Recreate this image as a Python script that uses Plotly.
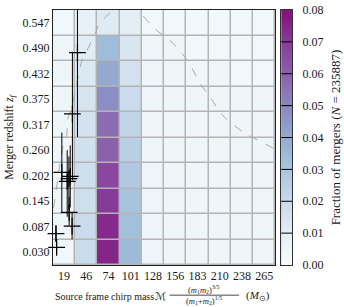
import numpy as np
import plotly.graph_objects as go

# ---------------- data ----------------
mass_centers = [19.0, 46.33, 73.67, 101.0, 128.33, 155.67, 183.0, 210.33, 237.67, 265.0]
mass_labels = ["19", "46", "74", "101", "128", "156", "183", "210", "238", "265"]
z_centers = [0.030, 0.0875, 0.145, 0.2025, 0.260, 0.3175, 0.375, 0.4325, 0.490, 0.5475]
z_labels = ["0.030", "0.087", "0.145", "0.202", "0.260", "0.317", "0.375", "0.432", "0.490", "0.547"]

# fraction of mergers per chirp-mass column, listed from lowest to highest redshift bin
frac_m19 = [0.003, 0.004, 0.004, 0.004, 0.004, 0.004, 0.004, 0.004, 0.004, 0.003]
frac_m46 = [0.019, 0.019, 0.018, 0.018, 0.017, 0.016, 0.015, 0.013, 0.011, 0.008]
frac_m74 = [0.075, 0.074, 0.070, 0.067, 0.060, 0.057, 0.048, 0.040, 0.034, 0.012]
frac_m101 = [0.035, 0.033, 0.031, 0.028, 0.025, 0.022, 0.019, 0.016, 0.014, 0.010]
frac_m128 = [0.005, 0.005, 0.005, 0.005, 0.004, 0.004, 0.004, 0.004, 0.004, 0.003]
frac_m156 = [0.004, 0.004, 0.004, 0.004, 0.004, 0.004, 0.004, 0.004, 0.004, 0.003]
frac_m183 = [0.004, 0.004, 0.004, 0.004, 0.004, 0.004, 0.004, 0.004, 0.003, 0.003]
frac_m210 = [0.004, 0.004, 0.004, 0.004, 0.004, 0.004, 0.004, 0.004, 0.003, 0.003]
frac_m238 = [0.004, 0.004, 0.004, 0.004, 0.004, 0.004, 0.004, 0.003, 0.003, 0.003]
frac_m265 = [0.004, 0.004, 0.004, 0.004, 0.004, 0.004, 0.004, 0.003, 0.003, 0.003]
columns = [frac_m19, frac_m46, frac_m74, frac_m101, frac_m128,
           frac_m156, frac_m183, frac_m210, frac_m238, frac_m265]

# observed events (source-frame chirp mass, redshift and its error bars)
ev_mass = [35.4, 29.2, 16.2, 26.5, 24.9, 22.8, 25.2, 28.8, 9.0, 9.8]
ev_z = [0.480, 0.342, 0.210, 0.201, 0.196, 0.190, 0.120, 0.089, 0.072, 0.041]
ev_z_up = [0.19, 0.14, 0.09, 0.07, 0.05, 0.07, 0.035, 0.03, 0.018, 0.012]
ev_z_dn = [0.19, 0.15, 0.09, 0.07, 0.07, 0.08, 0.03, 0.03, 0.018, 0.012]

# dashed reference curve
curve_mass = [6.0, 7.7, 10.1, 13.5, 17.4, 22.2, 23.4, 28.2, 33.0, 37.8, 41.4, 49.9, 58.3,
              61.9, 76.4, 92.0, 110.0, 122.1, 134.2, 146.2, 158.3, 167.9, 176.3, 184.7,
              194.4, 202.8, 210.0, 222.1, 236.5, 248.5, 264.2, 275.0, 278.7]
curve_z = [0.130, 0.148, 0.181, 0.225, 0.269, 0.293, 0.331, 0.353, 0.400, 0.440, 0.467,
           0.495, 0.528, 0.546, 0.572, 0.600, 0.576, 0.550, 0.528, 0.513, 0.491, 0.469,
           0.445, 0.414, 0.390, 0.368, 0.346, 0.324, 0.304, 0.291, 0.276, 0.265, 0.262]

cbar_vals = [0.00, 0.01, 0.02, 0.03, 0.04, 0.05, 0.06, 0.07, 0.08]
cbar_labels = ["0.00", "0.01", "0.02", "0.03", "0.04", "0.05", "0.06", "0.07", "0.08"]

# ---------------- layout geometry ----------------
W, H = 344, 307
ML, MT = 53, 3
PLOT_R, CB_L, CB_R, PLOT_B = 280, 286, 297, 265
MR, MB = W - CB_R, H - PLOT_B
PW, PH = CB_R - ML, PLOT_B - MT

def px_x(px):
    return (px - ML) / PW

def px_y(py):
    return (PLOT_B - py) / PH

zmat = [[columns[j][i] for j in range(len(mass_centers))] for i in range(len(z_centers))]

dm = mass_centers[1] - mass_centers[0]
dz = z_centers[1] - z_centers[0]
xr = [mass_centers[0] - dm / 2, mass_centers[-1] + dm / 2]
yr = [z_centers[0] - dz / 2, z_centers[-1] + dz / 2]

bupu = [
    [0 / 7, "rgb(247,252,253)"],
    [1 / 7, "rgb(224,236,244)"],
    [2 / 7, "rgb(191,211,230)"],
    [3 / 7, "rgb(158,188,218)"],
    [4 / 7, "rgb(140,150,198)"],
    [5 / 7, "rgb(140,107,177)"],
    [6 / 7, "rgb(136,65,157)"],
    [7 / 7, "rgb(129,15,124)"],
]
ZMIN, ZMAX = cbar_vals[0], cbar_vals[-1]

FONT = "Liberation Serif"
TXT = "#1a1a1a"

fig = go.Figure()

fig.add_trace(go.Heatmap(
    x=mass_centers, y=z_centers, z=zmat,
    zmin=ZMIN, zmax=ZMAX, colorscale=bupu, showscale=False,
    xgap=1.5, ygap=1.5, hoverinfo="skip",
))

fig.add_trace(go.Scatter(
    x=curve_mass, y=curve_z, mode="lines",
    line=dict(color="#a8a8a8", width=1, dash="dash"),
    hoverinfo="skip", showlegend=False,
))

fig.add_trace(go.Scatter(
    x=ev_mass, y=ev_z, mode="markers",
    marker=dict(size=1, color="rgba(0,0,0,0)"),
    error_y=dict(type="data", symmetric=False, array=ev_z_up, arrayminus=ev_z_dn,
                 color="black", thickness=1, width=0),
    hoverinfo="skip", showlegend=False,
))

fig.add_trace(go.Scatter(
    x=ev_mass, y=ev_z, mode="markers",
    marker=dict(symbol="cross-thin", size=12, line=dict(color="black", width=1.2)),
    cliponaxis=False, hoverinfo="skip", showlegend=False,
))

# colour bar drawn as its own small heatmap axis
grad = np.linspace(ZMIN, ZMAX, 321)
fig.add_trace(go.Heatmap(
    x=[0], y=grad, z=[[v] for v in grad],
    zmin=ZMIN, zmax=ZMAX, colorscale=bupu, showscale=False,
    xaxis="x2", yaxis="y2", hoverinfo="skip",
))
# colour-bar tick lines across the bar
for v in cbar_vals[1:-1]:
    fig.add_shape(type="line", xref="paper", yref="paper",
                  x0=px_x(CB_L), x1=1.0, y0=(v - ZMIN) / (ZMAX - ZMIN), y1=(v - ZMIN) / (ZMAX - ZMIN),
                  line=dict(color="black", width=1), layer="above")

# x axis title built from pieces (text + fraction)
ty = px_y(297)
XT = 10
fig.add_annotation(x=px_x(53), y=ty, xref="paper", yref="paper",
                   text="Source frame chirp mass", showarrow=False,
                   xanchor="left", yanchor="middle",
                   font=dict(family=FONT, size=XT, color=TXT))
fig.add_annotation(x=px_x(163), y=px_y(296.5), xref="paper", yref="paper",
                   text="ℳ", showarrow=False,
                   xanchor="center", yanchor="middle",
                   font=dict(family="DejaVu Sans", size=10.5, color=TXT))
fig.add_annotation(x=px_x(207), y=px_y(290.5), xref="paper", yref="paper",
                   text="(<i>m</i><sub>1</sub><i>m</i><sub>2</sub>)<sup>3/5</sup>",
                   showarrow=False, xanchor="center", yanchor="middle",
                   font=dict(family=FONT, size=8.5, color=TXT))
fig.add_annotation(x=px_x(207), y=px_y(301.5), xref="paper", yref="paper",
                   text="(<i>m</i><sub>1</sub>+<i>m</i><sub>2</sub>)<sup>1/5</sup>",
                   showarrow=False, xanchor="center", yanchor="middle",
                   font=dict(family=FONT, size=8.5, color=TXT))
fig.add_shape(type="line", xref="paper", yref="paper",
              x0=px_x(172), x1=px_x(243), y0=px_y(296), y1=px_y(296),
              line=dict(color=TXT, width=0.8))
fig.add_annotation(x=px_x(248), y=ty, xref="paper", yref="paper",
                   text="(<i>M</i><sub>⊙</sub>)", showarrow=False,
                   xanchor="left", yanchor="middle",
                   font=dict(family=FONT, size=XT + 1, color=TXT))

fig.update_layout(
    width=W, height=H,
    margin=dict(l=ML, r=MR, t=MT, b=MB, pad=0),
    paper_bgcolor="white", plot_bgcolor="#b4b4b4",
    showlegend=False,
    xaxis=dict(
        domain=[0, px_x(PLOT_R)], anchor="y",
        range=xr, tickvals=mass_centers, ticktext=mass_labels,
        showgrid=False, zeroline=False, ticks="",
        showline=True, linecolor="#222", linewidth=1, mirror=True,
        tickfont=dict(family=FONT, size=12, color=TXT),
    ),
    yaxis=dict(
        domain=[0, 1], anchor="x",
        range=yr, tickvals=z_centers, ticktext=z_labels,
        showgrid=False, zeroline=False, ticks="",
        showline=True, linecolor="#222", linewidth=1, mirror=True,
        tickfont=dict(family=FONT, size=12, color=TXT),
        ticklabeloverflow="allow",
        title=dict(text="Merger redshift <i>z<sub>f</sub></i>", standoff=6,
                   font=dict(family=FONT, size=12, color=TXT)),
    ),
    xaxis2=dict(
        domain=[px_x(CB_L), 1], anchor="y2", range=[-0.5, 0.5],
        showticklabels=False, showgrid=False, zeroline=False, ticks="",
        showline=True, linecolor="#333", linewidth=1, mirror=True,
    ),
    yaxis2=dict(
        domain=[0, 1], anchor="x2", side="right", range=[ZMIN, ZMAX],
        tickvals=cbar_vals, ticktext=cbar_labels, ticks="", ticklabelstandoff=7,
        ticklabeloverflow="allow",
        showgrid=False, zeroline=False,
        showline=True, linecolor="#333", linewidth=1, mirror=True,
        tickfont=dict(family=FONT, size=12, color=TXT),
        title=dict(text="Fraction of mergers (<i>N</i> = 235887)", standoff=8,
                   font=dict(family=FONT, size=13, color=TXT)),
    ),
)

fig.write_html("out.html")
